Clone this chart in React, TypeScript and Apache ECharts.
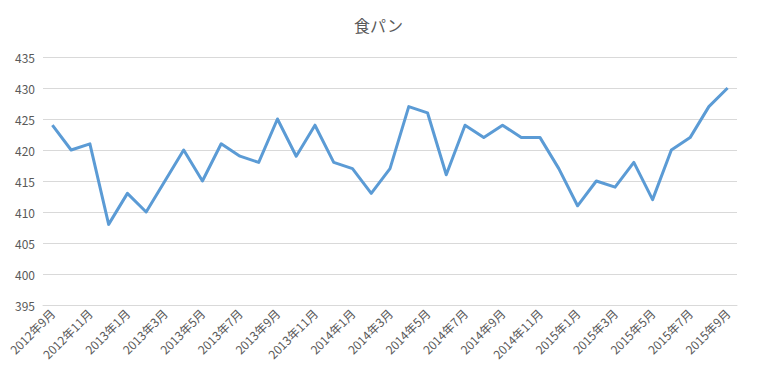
import React, { useEffect, useRef } from "react";
import * as echarts from "echarts";

const title = "食パン";
const months: string[] = [
  "2012年9月", "2012年10月", "2012年11月", "2012年12月",
  "2013年1月", "2013年2月", "2013年3月", "2013年4月", "2013年5月", "2013年6月",
  "2013年7月", "2013年8月", "2013年9月", "2013年10月", "2013年11月", "2013年12月",
  "2014年1月", "2014年2月", "2014年3月", "2014年4月", "2014年5月", "2014年6月",
  "2014年7月", "2014年8月", "2014年9月", "2014年10月", "2014年11月", "2014年12月",
  "2015年1月", "2015年2月", "2015年3月", "2015年4月", "2015年5月", "2015年6月",
  "2015年7月", "2015年8月", "2015年9月",
];
const prices: number[] = [
  424, 420, 421, 408,
  413, 410, 415, 420, 415, 421, 419, 418, 425, 419, 424, 418,
  417, 413, 417, 427, 426, 416, 424, 422, 424, 422, 422, 417,
  411, 415, 414, 418, 412, 420, 422, 427, 430,
];
const yMin = 395;
const yMax = 435;
const yStep = 5;

const FONT = '"Noto Sans CJK JP", "Noto Sans", sans-serif';

export default function App() {
  const ref = useRef<HTMLDivElement>(null);
  useEffect(() => {
    if (!ref.current) return;
    const chart = echarts.init(ref.current, null, { renderer: "svg" });
    chart.setOption({
      animation: false,
      backgroundColor: "#ffffff",
      title: {
        text: title,
        left: "center",
        top: 12,
        textStyle: { fontFamily: FONT, fontSize: 16, fontWeight: "normal", color: "#595959" },
      },
      grid: { left: 43, right: 20, top: 57, bottom: 73, containLabel: false },
      xAxis: {
        type: "category",
        data: months,
        boundaryGap: true,
        axisLine: { lineStyle: { color: "#d9d9d9", width: 1 } },
        axisTick: { interval: 1, length: 5, lineStyle: { color: "#d9d9d9" } },
        axisLabel: {
          interval: 1,
          rotate: 45,
          margin: 6,
          fontFamily: FONT,
          fontSize: 12,
          color: "#595959",
        },
        splitLine: { show: false },
      },
      yAxis: {
        type: "value",
        min: yMin,
        max: yMax,
        interval: yStep,
        axisLine: { show: false },
        axisTick: { show: false },
        axisLabel: { fontFamily: FONT, fontSize: 12, color: "#595959", margin: 8 },
        splitLine: { lineStyle: { color: "#d9d9d9", width: 1 } },
      },
      series: [
        {
          type: "line",
          data: prices,
          symbol: "none",
          lineStyle: { color: "#5B9BD5", width: 3, join: "round" },
          itemStyle: { color: "#5B9BD5" },
        },
      ],
    });
    return () => chart.dispose();
  }, []);
  return (
    <div
      style={{
        position: "fixed",
        left: 0,
        top: 0,
        width: 757,
        height: 378,
        boxSizing: "border-box",
        border: "1px solid #d9d9d9",
        background: "#fff",
      }}
    >
      <div ref={ref} style={{ position: "absolute", left: -1, top: -1, width: 757, height: 378 }} />
    </div>
  );
}
